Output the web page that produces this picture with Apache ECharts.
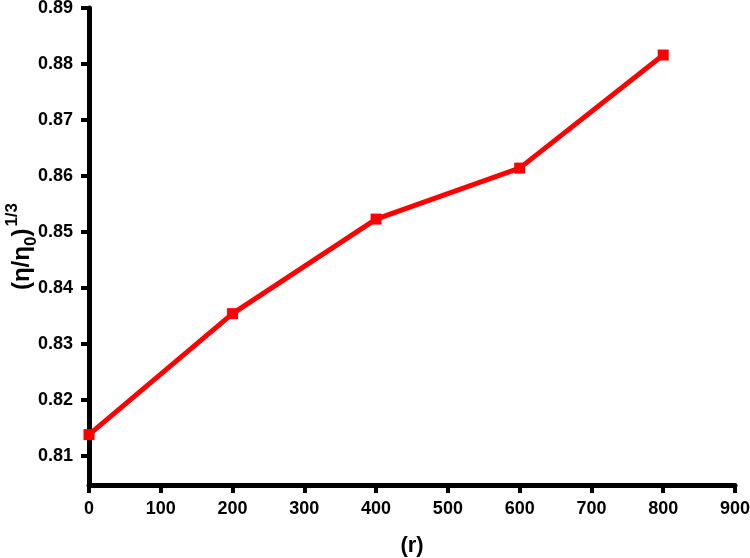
<!DOCTYPE html>
<html>
<head>
<meta charset="utf-8">
<script src="https://cdn.jsdelivr.net/npm/echarts@6/dist/echarts.min.js"></script>
<style>
    html, body { margin: 0; padding: 0; background: #fff; }
    #chartBody { width: 750px; height: 558px; }
</style>
</head>
<body>
<div id="chartBody"></div>
<script>
// data
var rValues = [0, 200, 400, 600, 800]
var etaValues = [0.8138, 0.8354, 0.8523, 0.8614, 0.8816]
var yTicks = [0.81, 0.82, 0.83, 0.84, 0.85, 0.86, 0.87, 0.88, 0.89]

var points = rValues.map(function (r, i) { return [r, etaValues[i]] })

var chart = echarts.init(document.getElementById('chartBody'))
var font = 'Liberation Sans'
chart.setOption({
    animation: false,
    grid: {
        left: 89,
        right: 15,
        top: 8,
        bottom: 73,
        outerBoundsMode: 'none'
    },
    xAxis: {
        type: 'value',
        min: 0,
        max: 900,
        interval: 100,
        name: '(r)',
        nameLocation: 'middle',
        nameGap: 50,
        nameMoveOverlap: false,
        nameTextStyle: { color: '#000', fontFamily: font, fontWeight: 'bold', fontSize: 22 },
        axisLine: { lineStyle: { color: '#000', width: 5 } },
        axisTick: { length: 8, lineStyle: { color: '#000', width: 4 } },
        axisLabel: { color: '#000', fontFamily: font, fontWeight: 'bold', fontSize: 18, margin: 15 },
        splitLine: { show: false }
    },
    yAxis: {
        type: 'value',
        min: 0.8048,
        max: 0.89,
        name: '{m|(η/η}{sub|0}{m|)}{sup|1/3}',
        nameLocation: 'middle',
        nameRotate: 90,
        nameGap: 49,
        nameMoveOverlap: false,
        nameTextStyle: {
            color: '#000', fontFamily: font, fontWeight: 'bold', fontSize: 24,
            rich: {
                m: { fontFamily: font, fontWeight: 'bold', fontSize: 24, color: '#000', lineHeight: 36, verticalAlign: 'middle' },
                sub: { fontFamily: font, fontWeight: 'bold', fontSize: 17, color: '#000', lineHeight: 26, verticalAlign: 'bottom' },
                sup: { fontFamily: font, fontWeight: 'bold', fontSize: 17, color: '#000', lineHeight: 14, verticalAlign: 'top', padding: [0, 0, 0, 2] }
            }
        },
        axisLine: { show: true, lineStyle: { color: '#000', width: 5 } },
        axisTick: { show: true, length: 8, customValues: yTicks, lineStyle: { color: '#000', width: 4 } },
        axisLabel: {
            color: '#000', fontFamily: font, fontWeight: 'bold', fontSize: 18, margin: 16,
            customValues: yTicks,
            formatter: function (v) { return v.toFixed(2) }
        },
        splitLine: { show: false }
    },
    series: [{
        type: 'line',
        data: points,
        symbol: 'rect',
        symbolSize: 11,
        clip: false,
        lineStyle: { color: '#ff0000', width: 5 },
        itemStyle: { color: '#ff0000' }
    }]
})
</script>
</body>
</html>
